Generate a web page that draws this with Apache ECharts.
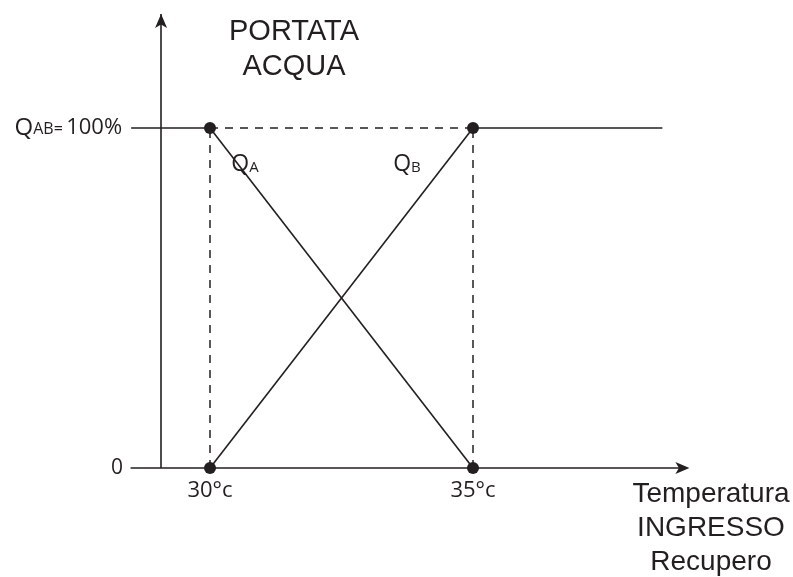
<!DOCTYPE html>
<html>
<head>
<meta charset="utf-8">
<script src="https://cdn.jsdelivr.net/npm/echarts@6/dist/echarts.min.js"></script>
<style>
  html, body { margin: 0; padding: 0; background: #fff; }
  #chart { width: 793px; height: 577px; }
</style>
</head>
<body>
<div id="chart"></div>
<script>
// Switch-over temperatures (°C) and water flow limits (%)
const temps = [30, 35];
const tempLabels = ['30°c', '35°c'];
const flowLimits = [0, 100];
// Flow of circuit A falls, flow of circuit B rises across the band
const flowA = [100, 0];
const flowB = [0, 100];
// Extent of the 100% reference line and of the vertical axis on the temperature scale
const xMin = 28.5;
const xMax = 39;
const yAxisAt = 29.07;
const refLineEnd = 38.6;
const yMax = 133.5;

const ink = '#231f20';
const sansHum = '"Open Sans", "Noto Sans", sans-serif';
const sansGeo = '"Liberation Sans", Arial, sans-serif';

const chart = echarts.init(document.getElementById('chart'));

const lineSolid = { color: ink, width: 1.6, type: 'solid' };
const lineDash = { color: ink, width: 1.5, type: [8, 7] };

const seg = (pts, style, extra) => Object.assign({
  type: 'line',
  data: pts,
  symbol: 'none',
  lineStyle: style,
  silent: true,
  animation: false,
  z: 2
}, extra || {});

const subLabel = (main, sub, idx, offset) => ({
  show: true,
  position: 'inside',
  offset: offset,
  formatter: p => p.dataIndex === idx ? '{q|' + main + '}{s|' + sub + '}' : '',
  rich: {
    q: { fontFamily: sansHum, fontSize: 23, color: ink },
    s: { fontFamily: sansHum, fontSize: 15, color: ink, padding: [5, 0, 0, 0] }
  }
});

const option = {
  animation: false,
  grid: { left: 131.1, right: 109.6, top: 14, bottom: 109 },
  title: [
    {
      text: 'PORTATA\nACQUA',
      left: 289,
      top: 9,
      textAlign: 'center',
      textStyle: { fontFamily: sansGeo, fontSize: 29, fontWeight: 'normal', color: ink, lineHeight: 35, align: 'center' }
    },
    {
      text: 'Temperatura\nINGRESSO\nRecupero',
      left: 706,
      top: 472,
      textAlign: 'center',
      textStyle: { fontFamily: sansGeo, fontSize: 28, fontWeight: 'normal', color: ink, lineHeight: 34, align: 'center' }
    }
  ],
  xAxis: {
    type: 'value',
    min: xMin,
    max: xMax,
    axisLine: {
      show: true,
      onZero: true,
      lineStyle: { color: ink, width: 1.6 },
      symbol: ['none', 'arrow'],
      symbolSize: [9, 14],
      symbolOffset: [0, 6]
    },
    axisTick: { show: false },
    splitLine: { show: false },
    axisLabel: {
      show: true,
      margin: 12,
      fontFamily: sansHum,
      fontSize: 22,
      color: ink,
      customValues: temps,
      formatter: v => tempLabels[temps.indexOf(v)] || ''
    }
  },
  yAxis: {
    type: 'value',
    min: 0,
    max: yMax,
    axisLine: { show: false },
    axisTick: { show: false },
    splitLine: { show: false },
    axisLabel: {
      show: true,
      margin: 8,
      customValues: flowLimits,
      formatter: v => v === 0 ? '{z|0}' : '{q|Q}{s|AB=} {n|100%}',
      rich: {
        q: { fontFamily: sansHum, fontSize: 24, color: ink },
        s: { fontFamily: sansHum, fontSize: 16, color: ink, padding: [4, 0, 0, 0] },
        n: { fontFamily: sansHum, fontSize: 22, color: ink, padding: [0, 1, 0, 0] },
        z: { fontFamily: sansHum, fontSize: 21, color: ink }
      }
    }
  },
  series: [
    // vertical axis with arrow head
    {
      type: 'line',
      data: [],
      silent: true,
      markLine: {
        silent: true,
        symbol: ['none', 'arrow'],
        symbolSize: [9, 14],
        label: { show: false },
        lineStyle: { color: ink, width: 1.6, type: 'solid' },
        data: [{ xAxis: yAxisAt }]
      }
    },
    // 100% reference line: solid, dashed between the thresholds, solid beyond
    seg([[xMin, flowLimits[1]], [temps[0], flowLimits[1]]], lineSolid),
    seg([[temps[0], flowLimits[1]], [temps[1], flowLimits[1]]], lineDash),
    seg([[temps[1], flowLimits[1]], [refLineEnd, flowLimits[1]]], lineSolid),
    // vertical guides at the thresholds
    seg([[temps[0], flowLimits[0]], [temps[0], flowLimits[1]]], lineDash),
    seg([[temps[1], flowLimits[0]], [temps[1], flowLimits[1]]], lineDash),
    // Q_A
    seg([[temps[0], flowA[0]], [temps[1], flowA[1]]], lineSolid, {
      name: 'QA',
      symbol: 'circle',
      symbolSize: 0,
      showSymbol: true,
      label: subLabel('Q', 'A', 0, [35, 37])
    }),
    // Q_B
    seg([[temps[0], flowB[0]], [temps[1], flowB[1]]], lineSolid, {
      name: 'QB',
      symbol: 'circle',
      symbolSize: 0,
      showSymbol: true,
      label: subLabel('Q', 'B', 1, [-66, 37])
    }),
    // threshold points
    {
      type: 'scatter',
      symbol: 'circle',
      symbolSize: 12,
      itemStyle: { color: ink, opacity: 1 },
      silent: true,
      z: 5,
      data: [
        [temps[0], flowLimits[0]], [temps[0], flowLimits[1]],
        [temps[1], flowLimits[0]], [temps[1], flowLimits[1]]
      ]
    }
  ]
};

chart.setOption(option);
</script>
</body>
</html>
